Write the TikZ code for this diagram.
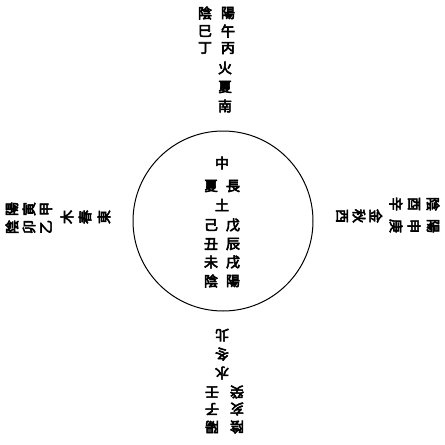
\documentclass[tikz,border=0pt]{standalone}
\usepackage{fontspec}
\newfontfamily\cjk[FakeBold=4]{Noto Sans CJK TC}

\begin{document}
\begin{tikzpicture}[x=1pt,y=-1pt,
   zi/.style={font=\cjk\fontsize{14}{14}\selectfont, inner sep=0pt}]
   \useasboundingbox (0,0) rectangle (445,445);

   \node[circle, draw, line width=1pt, minimum size=180pt, inner sep=0pt] (earth) at (223,221) {};

   % south (top)
   \foreach \z/\y [count=\i] in {陰/13,巳/31,丁/48} \node[zi] (sa\i) at (205,\y) {\z};
   \foreach \z/\y [count=\i] in {陽/13,午/31,丙/48} \node[zi] (sb\i) at (228,\y) {\z};
   \foreach \z/\y [count=\i] in {火/68,夏/87,南/106} \node[zi] (sc\i) at (225,\y) {\z};

   % centre
   \node[zi] (c0) at (222,163) {中};
   \node[zi] (c1) at (222,205) {土};
   \foreach \z/\y [count=\i] in {夏/186,己/225,丑/244,未/262,陰/281} \node[zi] (ca\i) at (211,\y) {\z};
   \foreach \z/\y [count=\i] in {長/186,戊/225,辰/244,戌/262,陽/281} \node[zi] (cb\i) at (233,\y) {\z};

   % north (bottom)
   \foreach \z/\y [count=\i] in {北/335,冬/354,水/373} \node[zi, rotate=180] (nc\i) at (222,\y) {\z};
   \foreach \z/\y [count=\i] in {壬/392,子/409,陽/427} \node[zi, rotate=180] (na\i) at (212,\y) {\z};
   \foreach \z/\y [count=\i] in {癸/392,亥/409,陰/427} \node[zi, rotate=180] (nb\i) at (237,\y) {\z};

   % east (left)
   \foreach \z/\x [count=\i] in {陽/12,寅/29,甲/46} \node[zi, rotate=90] (ea\i) at (\x,209) {\z};
   \foreach \z/\x [count=\i] in {陰/12,卯/29,乙/46} \node[zi, rotate=90] (eb\i) at (\x,227) {\z};
   \foreach \z/\x [count=\i] in {木/67,春/85,東/104} \node[zi, rotate=90] (ec\i) at (\x,217) {\z};

   % west (right)
   \foreach \z/\x [count=\i] in {陰/433,酉/414,辛/396} \node[zi, rotate=-90] (wa\i) at (\x,204) {\z};
   \foreach \z/\x [count=\i] in {陽/433,申/414,庚/396} \node[zi, rotate=-90] (wb\i) at (\x,226) {\z};
   \foreach \z/\x [count=\i] in {金/376,秋/359,西/342} \node[zi, rotate=-90] (wc\i) at (\x,216) {\z};
\end{tikzpicture}
\end{document}
